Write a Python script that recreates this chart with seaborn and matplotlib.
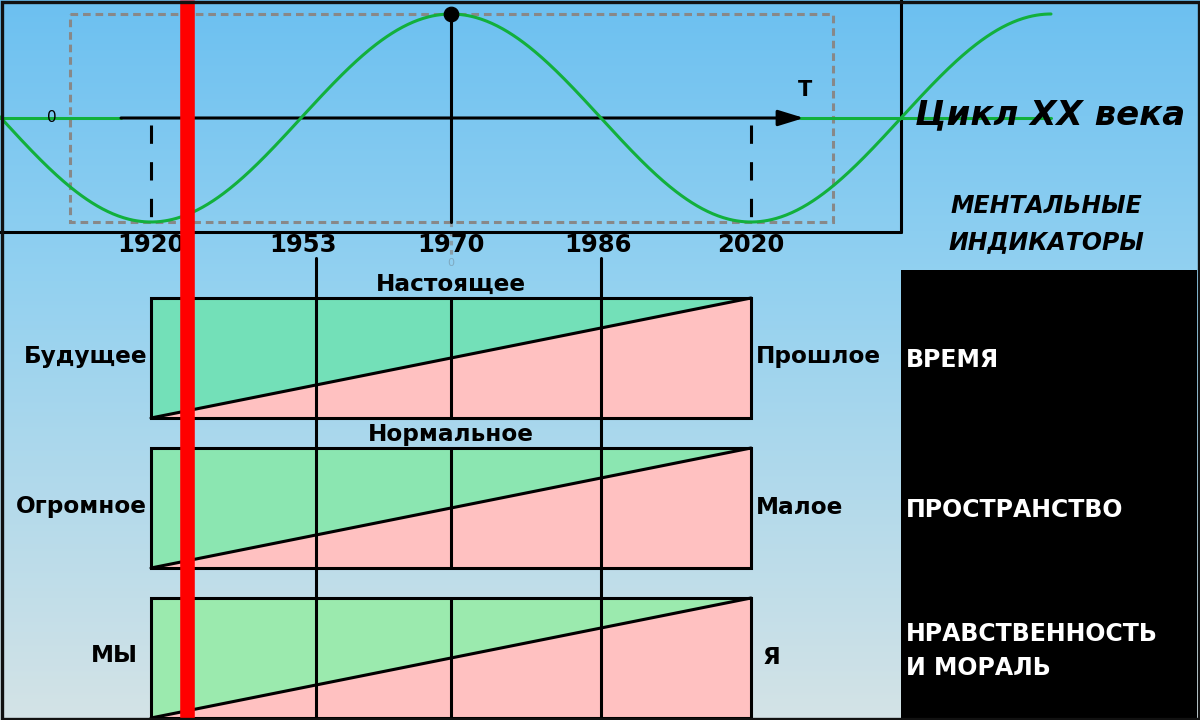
import numpy as np
import matplotlib
matplotlib.use("Agg")
import matplotlib.pyplot as plt
import matplotlib.patches as mpatches
from matplotlib.colors import to_rgb
import seaborn as sns

sns.set_theme(style="white")
plt.rcParams['font.family'] = ['DejaVu Sans']
plt.rcParams['text.color'] = 'black'

# --- data -------------------------------------------------------------
years = ["1920", "1953", "1970", "1986", "2020"]
year_x = [151, 316, 451, 601, 751]          # where each year sits on the cycle
cycle_min_x = 151                           # trough of the cycle (1920)
cycle_period = 600                          # one full cycle (1920 -> 2020)
cycle_end_x = 1051

indicators = ["ВРЕМЯ", "ПРОСТРАНСТВО", "НРАВСТВЕННОСТЬ\nИ МОРАЛЬ"]
left_labels = ["Будущее", "Огромное", "МЫ"]
right_labels = ["Прошлое", "Малое", "Я"]
top_labels = ["Настоящее", "Нормальное", ""]
green_colors = ["#73e0b8", "#8be6b1", "#9beaae"]
pink = "#ffc1c1"

title = "Цикл XX века"
subtitle = "МЕНТАЛЬНЫЕ\nИНДИКАТОРЫ"
red_year_x = 187

# --- figure -----------------------------------------------------------
fig = plt.figure(figsize=(12, 7.2), dpi=100)
ax = fig.add_axes([0, 0, 1, 1])
ax.set_xlim(0, 1200)
ax.set_ylim(720, 0)
ax.axis("off")

# gradient background
top_c = np.array(to_rgb("#6cc0f0"))
mid_c = np.array(to_rgb("#93d1f0"))
bot_c = np.array(to_rgb("#d4e3e6"))
t = np.linspace(0, 1, 720)[:, None]
grad = np.where(t < 0.39, top_c + (mid_c - top_c) * (t / 0.39),
                mid_c + (bot_c - mid_c) * ((t - 0.39) / 0.61))
ax.imshow(grad[:, None, :].repeat(2, axis=1), extent=[0, 1200, 720, 0],
          aspect="auto", zorder=0)

LW = 2.2
axis_y = 118
amp = 104

# dashed gray frame of the cycle window
ax.add_patch(mpatches.Rectangle((70, 14), 763, 208, fill=False, ec="#888888",
                                lw=LW, ls=(0, (2.5, 1.6)), zorder=2))

# top box frame
ax.plot([0, 901], [232, 232], color="black", lw=LW, zorder=3)
ax.plot([901, 901], [0, 232], color="black", lw=LW, zorder=3)

# sine cycle
xs = np.linspace(0, cycle_end_x, 800)
ys = axis_y + amp * np.cos(2 * np.pi * (xs - cycle_min_x) / cycle_period)
sns.lineplot(x=xs, y=ys, ax=ax, color="#12b03c", lw=LW, sort=False, zorder=4)

# time axis
ax.plot([0, 121], [axis_y, axis_y], color="#12b03c", lw=LW, zorder=3)
ax.plot([800, cycle_end_x], [axis_y, axis_y], color="#12b03c", lw=LW, zorder=3)
ax.annotate("", xy=(804, axis_y), xytext=(121, axis_y),
            arrowprops=dict(arrowstyle="-|>,head_length=1.3,head_width=0.4",
                            lw=LW, color="black", shrinkA=0, shrinkB=0),
            zorder=3)
ax.text(52, axis_y, "0", fontsize=11, ha="center", va="center", zorder=4)
ax.text(805, 90, "T", fontsize=15, fontweight="bold", ha="center",
        va="center", zorder=4)

# peak marker and trough dashes
peak_x = year_x[2]
ax.plot([peak_x, peak_x], [axis_y - amp, axis_y + amp], color="black", lw=LW,
        zorder=3)
sns.scatterplot(x=[peak_x], y=[axis_y - amp], ax=ax, color="black", s=110,
                edgecolor="black", zorder=5)
ax.plot([peak_x, peak_x], [222, 256], color="#888888", lw=LW,
        ls=(0, (1.5, 1.5)), alpha=0.7, zorder=2)
ax.text(peak_x, 263, "0", fontsize=8, color="#7fa9c0", ha="center",
        va="center", zorder=2)
for xv in (year_x[0], year_x[4]):
    ax.plot([xv, xv], [125, 220], color="black", lw=LW, ls=(0, (6, 6)),
            zorder=3)

# year labels
for lab, xv in zip(years, year_x):
    dx = -13 if lab == "1953" else (-3 if lab == "1986" else 0)
    ax.text(xv + dx, 245, lab, fontsize=17.5, fontweight="bold", ha="center",
            va="center", zorder=4)

# long year guide lines
for xv in (year_x[1], year_x[3]):
    ax.plot([xv, xv], [258, 720], color="black", lw=LW, zorder=3)

# indicator boxes
bx0, bx1 = year_x[0], year_x[4]
for i, name in enumerate(indicators):
    top = 298 + 150 * i
    bot = top + 120
    ax.add_patch(mpatches.Polygon([(bx0, top), (bx1, top), (bx0, bot)],
                                  closed=True, fc=green_colors[i], ec="none",
                                  zorder=2))
    ax.add_patch(mpatches.Polygon([(bx1, top), (bx1, bot), (bx0, bot)],
                                  closed=True, fc=pink, ec="none", zorder=2))
    ax.plot([bx0, bx1], [bot, top], color="black", lw=LW, zorder=3)
    ax.add_patch(mpatches.Rectangle((bx0, top), bx1 - bx0, 120, fill=False,
                                    ec="black", lw=LW, zorder=3))
    ax.plot([year_x[2], year_x[2]], [top, bot], color="black", lw=LW,
            zorder=3)

    ax.text(147 if i < 2 else 138, top + 58, left_labels[i], fontsize=16.7,
            fontweight="bold", ha="right", va="center", zorder=4)
    ax.text(756 if i < 2 else 763, top + 59, right_labels[i], fontsize=16.7,
            fontweight="bold", ha="left", va="center", zorder=4)
    if top_labels[i]:
        ax.text(year_x[2], top - 14, top_labels[i], fontsize=16.7,
                fontweight="bold", ha="center", va="center", zorder=4)

# right panel
ax.add_patch(mpatches.Rectangle((901, 270), 296, 450, fc="black", ec="none",
                                zorder=2))
ax.text(1050, 115, title, fontsize=24.5, fontweight="bold", style="italic",
        ha="center", va="center", zorder=6)
ax.text(1046, 224, subtitle, fontsize=17, fontweight="bold", style="italic",
        ha="center", va="center", linespacing=1.6, zorder=4)
for i, name in enumerate(indicators):
    top = 298 + 150 * i
    ax.text(906, top + 62 if i < 2 else top + 53, name, fontsize=17,
            fontweight="bold", color="white", ha="left", va="center",
            linespacing=1.5, zorder=4)

# red marker line
ax.plot([red_year_x, red_year_x], [0, 720], color="#ff0000", lw=10.5,
        solid_capstyle="butt", zorder=7)

# outer frame
ax.add_patch(mpatches.Rectangle((1.5, 1.5), 1197, 717, fill=False,
                                ec="#111111", lw=2.4, zorder=8))

fig.savefig("out.png", dpi=100)
